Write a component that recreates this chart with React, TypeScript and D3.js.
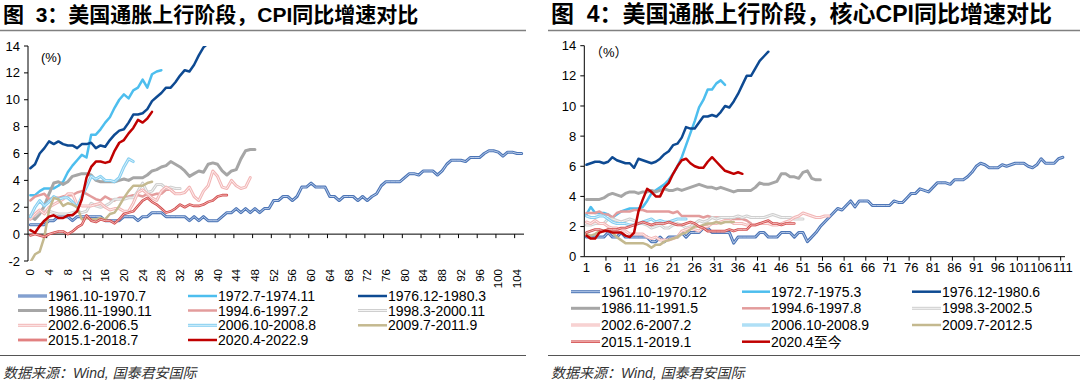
import React from "react";
import * as d3 from "d3";

const LATIN = "'Liberation Sans', Arial, 'Noto Sans CJK SC', sans-serif";

// ---------- Left chart: CPI YoY (%) ----------
const leftTitle = "图  3：美国通胀上行阶段，CPI同比增速对比";
const leftNames = [
  "1961.10-1970.7", "1972.7-1974.11", "1976.12-1980.3",
  "1986.11-1990.11", "1994.6-1997.2", "1998.3-2000.11",
  "2002.6-2006.5", "2006.10-2008.8", "2009.7-2011.9",
  "2015.1-2018.7", "2020.4-2022.9",
];
const leftTickLabels = ["0","4","8","12","16","20","24","28","32","36","40","44","48","52","56","60","64","68","72","76","80","84","88","92","96","100","104"];
const leftYTicks = [-2, 0, 2, 4, 6, 8, 10, 12, 14];

const cpi1961 = [0.7,0.7,0.7,
  0.7,1.0,1.0,1.3,1.3,1.3,1.0,1.3,1.3,1.3,1.3,1.3,
  1.3,1.0,1.0,1.0,1.0,1.3,1.3,1.3,1.0,1.3,1.3,1.6,
  1.6,1.6,1.3,1.3,1.3,1.3,1.3,1.0,1.3,1.0,1.3,1.0,
  1.0,1.0,1.3,1.6,1.6,1.9,1.6,1.9,1.6,1.9,1.6,1.9,
  1.9,2.5,2.5,2.8,2.8,2.5,2.8,3.5,3.5,3.8,3.5,3.5,
  3.5,2.8,2.8,2.5,2.8,2.8,2.8,2.5,2.8,2.5,2.8,3.0,
  3.6,3.9,3.9,3.9,3.9,4.2,4.5,4.5,4.4,4.7,4.7,4.7,
  4.4,4.7,5.2,5.5,5.5,5.5,5.4,5.7,5.7,5.7,6.0,6.2,
  6.2,6.1,5.8,6.1,6.1,6.0,6.0];
const cpi1972 = [2.9,2.9,3.2,3.4,3.4,3.4,
  3.6,3.9,4.6,5.1,5.5,5.9,5.7,7.4,7.4,7.8,8.3,8.7,
  9.4,10.0,10.4,10.1,10.7,10.9,11.5,10.9,11.9,12.1,12.2];
const cpi1976 = [4.9,
  5.2,6.0,6.4,6.9,6.7,6.9,6.7,6.6,6.6,6.4,6.7,6.7,
  6.8,6.4,6.6,6.5,7.0,7.4,7.7,7.8,8.3,8.9,8.9,9.0,
  9.3,9.9,10.2,10.5,10.9,10.9,11.3,11.8,12.2,12.1,12.6,13.3,
  13.9,14.2,14.8];
const cpi1986 = [1.3,1.1,
  1.5,2.1,3.0,3.8,3.9,3.7,3.9,4.3,4.4,4.5,4.5,4.4,
  4.0,3.9,3.9,3.9,3.9,4.0,4.1,4.0,4.2,4.2,4.2,4.4,
  4.7,4.8,5.0,5.1,5.4,5.2,5.0,4.7,4.3,4.5,4.7,4.6,
  5.2,5.3,5.2,4.7,4.4,4.7,4.8,5.6,6.2,6.3,6.3];
const cpi1994 = [2.5,2.8,2.9,3.0,2.6,2.7,2.7,
  2.8,2.9,2.9,3.1,3.2,3.0,2.8,2.6,2.5,2.8,2.6,2.5,
  2.7,2.7,2.8,2.9,2.9,2.8,3.0,2.9,3.0,3.0,3.3,3.3,
  3.0,3.0];
const cpi1998 = [1.4,1.4,1.7,1.7,1.7,1.6,1.5,1.5,1.5,1.6,
  1.7,1.6,1.7,2.3,2.1,2.0,2.1,2.3,2.6,2.6,2.6,2.7,
  2.7,3.2,3.8,3.1,3.2,3.7,3.7,3.4,3.5,3.4,3.4];
const cpi2002 = [1.1,1.5,1.8,1.5,2.0,2.2,2.4,
  2.6,3.0,3.0,2.2,2.1,2.1,2.1,2.2,2.3,2.0,1.8,1.9,
  1.9,1.7,1.7,2.3,3.1,3.3,3.0,2.7,2.5,3.2,3.5,3.3,
  3.0,3.0,3.1,3.5,2.8,2.5,3.2,3.6,4.7,4.3,3.5,3.4,
  4.0,3.6,3.4,3.5,4.2];
const cpi2006 = [1.3,2.0,2.5,
  2.1,2.4,2.8,2.6,2.7,2.7,2.4,2.0,2.8,3.5,4.3,4.1,
  4.3,4.0,4.0,3.9,4.2,5.0,5.6,5.4];
const cpi2009 = [-2.1,-1.5,-1.3,-0.2,1.8,2.7,
  2.6,2.1,2.3,2.2,2.0,1.1,1.2,1.1,1.1,1.2,1.1,1.5,
  1.6,2.1,2.7,3.2,3.6,3.6,3.6,3.8,3.9];
const cpi2015 = [-0.1,0.0,-0.1,-0.2,0.0,0.1,0.2,0.2,0.0,0.2,0.5,0.7,
  1.4,1.0,0.9,1.1,1.0,1.0,0.8,1.1,1.5,1.6,1.7,2.1,
  2.5,2.7,2.4,2.2,1.9,1.6,1.7,1.9,2.2,2.0,2.2,2.1,
  2.1,2.2,2.4,2.5,2.8,2.9,2.9];
const cpi2020 = [0.3,0.1,0.6,1.0,1.3,1.4,1.2,1.2,1.4,
  1.4,1.7,2.6,4.2,5.0,5.4,5.4,5.3,5.4,6.2,6.8,7.0,
  7.5,7.9,8.5,8.3,8.6,9.1];
const leftValues = [cpi1961, cpi1972, cpi1976, cpi1986, cpi1994, cpi1998, cpi2002, cpi2006, cpi2009, cpi2015, cpi2020];

// ---------- Right chart: core CPI YoY (%) ----------
const rightTitle = "图  4：美国通胀上行阶段，核心CPI同比增速对比";
const rightNames = [
  "1961.10-1970.12", "1972.7-1975.3", "1976.12-1980.6",
  "1986.11-1991.5", "1994.6-1997.8", "1998.3-2002.5",
  "2002.6-2007.2", "2006.10-2008.9", "2009.7-2012.5",
  "2015.1-2019.1", "2020.4至今",
];
const rightTickLabels = ["1","6","11","16","21","26","31","36","41","46","51","56","61","66","71","76","81","86","91","96","101","106","111"];
const rightYTicks = [0, 2, 4, 6, 8, 10, 12, 14];

const core1961 = [1.3,1.3,1.3,1.3,1.3,1.6,1.3,1.3,1.6,1.3,
  1.3,1.3,1.3,1.3,1.3,1.0,1.0,1.3,1.0,1.3,
  1.3,1.3,1.6,1.3,1.6,1.6,1.6,1.9,1.9,1.6,
  1.6,1.6,1.6,1.6,0.9,1.3,1.3,1.3,1.3,1.3,
  1.6,1.6,1.3,1.3,1.3,1.6,1.6,1.6,1.3,1.6,
  1.6,1.0,1.3,1.6,2.0,2.3,2.6,2.9,3.2,3.1,
  3.4,3.7,3.3,3.7,3.7,3.7,3.4,3.4,3.4,3.4,
  3.4,3.7,3.6,3.6,3.9,4.2,4.2,4.5,4.4,4.3,
  4.6,4.9,4.9,4.9,4.8,5.1,5.1,5.1,5.3,5.6,
  6.0,6.2,6.1,5.9,5.9,5.9,6.1,6.0,6.1,6.2,
  6.2,6.2,6.0,5.9,6.1,6.5,6.2,6.2,6.2,6.5,6.6];
const core1972 = [2.8,3.3,2.9,2.9,2.9,2.8,2.6,2.8,3.0,3.1,
  3.2,3.2,3.2,3.3,3.7,4.2,4.4,4.6,4.8,5.1,
  5.5,6.0,6.6,7.4,8.2,9.0,9.9,10.4,11.1,11.1,
  11.5,11.7,11.4];
const core1976 = [6.1,6.2,6.3,6.3,6.2,6.3,6.6,6.4,6.3,6.2,
  6.2,5.9,6.5,6.4,6.3,6.2,6.3,6.5,6.8,7.0,
  7.4,7.5,7.9,8.6,8.5,8.5,8.9,9.3,9.3,9.4,
  9.3,9.6,10.0,9.9,10.3,10.8,11.4,12.0,12.0,12.5,
  13.0,13.3,13.6];
const core1986 = [3.8,3.8,3.8,3.8,3.9,4.1,4.2,4.1,4.0,4.2,
  4.3,4.3,4.2,4.3,4.3,4.4,4.3,4.4,4.5,4.4,
  4.4,4.5,4.4,4.5,4.6,4.7,4.8,4.7,4.6,4.6,
  4.5,4.6,4.5,4.4,4.3,4.4,4.4,4.4,4.4,4.6,
  4.9,4.8,4.8,4.9,5.0,5.5,5.5,5.3,5.3,5.2,
  5.6,5.7,5.2,5.1,5.1];
const core1994 = [2.9,2.9,2.9,3.0,2.8,2.8,2.6,2.9,3.0,3.0,
  3.0,3.1,3.1,3.1,3.0,3.0,3.0,3.0,3.0,3.0,
  2.9,3.0,2.7,2.7,2.7,2.7,2.7,2.6,2.7,2.6,
  2.6,2.6,2.6,2.6,2.5,2.5,2.5,2.4,2.2];
const core1998 = [2.1,2.1,2.2,2.2,2.2,2.5,2.5,2.4,2.3,2.4,
  2.5,2.4,2.2,2.2,2.1,1.9,2.0,2.1,1.9,1.9,
  2.1,2.2,2.1,1.9,2.0,2.2,2.4,2.3,2.4,2.6,
  2.5,2.6,2.6,2.6,2.6,2.7,2.6,2.7,2.6,2.6,
  2.6,2.6,2.7,2.8,2.7,2.6,2.6,2.6,2.5,2.5,2.5];
const core2002 = [2.3,2.2,2.4,2.2,2.2,2.0,1.9,1.9,1.7,1.7,
  1.5,1.5,1.5,1.5,1.3,1.2,1.3,1.1,1.1,1.1,
  1.2,1.3,1.7,1.8,1.9,1.8,1.7,2.0,2.0,2.2,
  2.2,2.3,2.4,2.4,2.2,2.2,2.2,2.1,2.1,2.1,
  2.2,2.2,2.2,2.1,2.1,2.2,2.3,2.4,2.6,2.7,
  2.9,2.8,2.7,2.6,2.6,2.7,2.7];
const core2006 = [2.7,2.6,2.6,2.7,2.7,2.5,2.3,2.2,2.2,2.2,
  2.1,2.1,2.2,2.3,2.4,2.5,2.3,2.4,2.3,2.3,
  2.4,2.5,2.5,2.5];
const core2009 = [1.5,1.4,1.5,1.7,1.7,1.8,1.6,1.3,1.1,0.9,
  0.9,0.9,0.9,0.9,0.8,0.6,0.8,0.8,1.0,1.1,
  1.2,1.3,1.5,1.6,1.8,2.0,2.0,2.1,2.2,2.2,
  2.3,2.2,2.3,2.3,2.3];
const core2015 = [1.6,1.7,1.8,1.8,1.7,1.8,1.8,1.8,1.9,1.9,2.0,2.1,
  2.2,2.3,2.2,2.1,2.2,2.2,2.2,2.3,2.2,2.1,2.1,2.2,
  2.3,2.2,2.0,1.9,1.7,1.7,1.7,1.7,1.7,1.8,1.7,1.8,
  1.8,1.8,2.1,2.1,2.2,2.3,2.4,2.2,2.2,2.1,2.2,2.2,
  2.2];
const core2020 = [1.4,1.2,1.2,1.6,1.7,1.7,1.6,1.6,1.6,
  1.4,1.3,1.6,3.0,3.8,4.5,4.3,4.0,4.0,4.6,4.9,5.5,
  6.0,6.4,6.5,6.2,6.0,5.9,5.9,6.3,6.6,6.3,6.0,5.7,
  5.6,5.5,5.6,5.5];
const rightValues = [core1961, core1972, core1976, core1986, core1994, core1998, core2002, core2006, core2009, core2015, core2020];

const footnote = "数据来源：Wind, 国泰君安国际";

// ---------- Styles (per series index) ----------
type Sty = { color: string; width: number; inner?: string };
const styles: Sty[] = [
  { color: "#4C75B6", width: 3, inner: "#B9CCEA" },
  { color: "#4DBEEE", width: 2.5 },
  { color: "#0E4A92", width: 2.5 },
  { color: "#A6A6A6", width: 3 },
  { color: "#E39C9C", width: 2.5 },
  { color: "#CFCFCF", width: 3, inner: "#F4F4F4" },
  { color: "#F2B6B6", width: 3, inner: "#FDEEEE" },
  { color: "#86CFF1", width: 3, inner: "#D8F0FB" },
  { color: "#C4B98F", width: 2.5 },
  { color: "#D24F4F", width: 2.6, inner: "#F2B2B2" },
  { color: "#C00000", width: 2.5 },
];

type PanelProps = {
  id: string;
  title: string;
  titleSize: number;
  names: string[];
  values: number[][];
  start: number;
  n: number;
  x0: number; x1: number;
  yDomain: [number, number];
  yTop: number; yBottom: number;
  yTicks: number[];
  tickLabels: string[];
  labelEvery: number;
  rotated: boolean;
  unit: string;
  unitX: number; unitY: number;
  leftEdge: number; rightEdge: number;
  legendCols: { lineX: number; textX: number }[];
  legendRows: number[];
};

function Panel(p: PanelProps) {
  const x = d3.scaleLinear().domain([p.start - 0.5, p.start + p.n - 0.5]).range([p.x0, p.x1]);
  const y = d3.scaleLinear().domain(p.yDomain).range([p.yBottom, p.yTop]);
  const line = d3.line<number>().x((_, i) => x(p.start + i)).y((v) => y(v));
  const axisY = y(Math.max(0, p.yDomain[0]));
  const boundaries = d3.range(p.start - 0.5 + p.labelEvery, p.start + p.n - 0.5 + 0.001, p.labelEvery);
  const labelCats = p.tickLabels.map((t) => +t);
  const clipId = "clip-" + p.id;
  return (
    <g>
      <text x={p.leftEdge + 3} y={21.5} fontFamily={LATIN} fontWeight="bold" fontSize={p.titleSize} fill="#000" style={{ whiteSpace: "pre" }}>{p.title}</text>
      <line x1={p.leftEdge} x2={p.rightEdge} y1={30.5} y2={30.5} stroke="#808080" strokeWidth={1.6} />
      <defs>
        <clipPath id={clipId}>
          <rect x={p.x0} y={p.yTop} width={p.x1 - p.x0} height={p.yBottom - p.yTop} />
        </clipPath>
      </defs>
      {/* y axis */}
      <line x1={p.x0} x2={p.x0} y1={p.yTop} y2={p.yBottom} stroke="#000" strokeWidth={1} />
      {p.yTicks.map((t) => (
        <g key={"yt" + t}>
          <line x1={p.x0 - 4} x2={p.x0} y1={y(t)} y2={y(t)} stroke="#000" strokeWidth={1} />
          <text x={p.x0 - 8} y={y(t)} dy="0.35em" textAnchor="end" fontFamily={LATIN} fontSize={13} fill="#000">{t}</text>
        </g>
      ))}
      <text x={p.unitX} y={p.unitY} fontFamily={LATIN} fontSize={13} fill="#000">{p.unit}</text>
      {/* x axis */}
      <line x1={p.x0} x2={p.x1} y1={axisY} y2={axisY} stroke="#000" strokeWidth={1} />
      {boundaries.map((b) => (
        <line key={"xt" + b} x1={x(b)} x2={x(b)} y1={axisY} y2={axisY + 4} stroke="#000" strokeWidth={1} />
      ))}
      {labelCats.map((c, i) =>
        p.rotated ? (
          <text key={"xl" + c} transform={`translate(${x(c)},${p.yBottom + 8}) rotate(-90)`} textAnchor="end" dy="0.35em" fontFamily={LATIN} fontSize={11.5} fill="#000">{p.tickLabels[i]}</text>
        ) : (
          <text key={"xl" + c} x={x(c)} y={axisY + 15} textAnchor="middle" fontFamily={LATIN} fontSize={13} fill="#000">{p.tickLabels[i]}</text>
        )
      )}
      {/* series */}
      <g clipPath={`url(#${clipId})`}>
        {p.values.map((vals, si) => {
          const s = styles[si];
          const d = line(vals) || "";
          return (
            <g key={"s" + si}>
              <path d={d} fill="none" stroke={s.color} strokeWidth={s.width} strokeLinejoin="round" strokeLinecap="round" />
              {s.inner && <path d={d} fill="none" stroke={s.inner} strokeWidth={1} strokeLinejoin="round" strokeLinecap="round" />}
            </g>
          );
        })}
      </g>
      {/* legend */}
      {p.names.map((nm, i) => {
        const col = p.legendCols[i % 3];
        const row = p.legendRows[Math.floor(i / 3)];
        const s = styles[i];
        return (
          <g key={"lg" + i}>
            <line x1={col.lineX} x2={col.textX - 1} y1={row} y2={row} stroke={s.color} strokeWidth={s.width} />
            {s.inner && <line x1={col.lineX} x2={col.textX - 1} y1={row} y2={row} stroke={s.inner} strokeWidth={1} />}
            <text x={col.textX} y={row} dy="0.36em" fontFamily={LATIN} fontSize={14} fill="#000">{nm}</text>
          </g>
        );
      })}
      <line x1={p.leftEdge} x2={p.rightEdge} y1={355.5} y2={355.5} stroke="#555" strokeWidth={1} />
      <text x={p.leftEdge + 3} y={378} fontFamily={LATIN} fontStyle="italic" fontSize={14} fill="#333">{footnote}</text>
    </g>
  );
}

export default function App() {
  return (
    <svg width={1080} height={385} style={{ position: "absolute", left: 0, top: 0, background: "#fff" }}>
      <rect x={0} y={0} width={1080} height={385} fill="#fff" />
      <Panel
        id="left" title={leftTitle} titleSize={21} names={leftNames} values={leftValues}
        start={0} n={106} x0={28} x1={524}
        yDomain={[-2, 14]} yTop={46} yBottom={261} yTicks={leftYTicks}
        tickLabels={leftTickLabels} labelEvery={4} rotated={true}
        unit="(%)" unitX={41} unitY={62}
        leftEdge={0} rightEdge={526}
        legendCols={[{ lineX: 18, textX: 48 }, { lineX: 188, textX: 218 }, { lineX: 358, textX: 388 }]}
        legendRows={[296, 310.5, 325.3, 340]}
      />
      <Panel
        id="right" title={rightTitle} titleSize={23} names={rightNames} values={rightValues}
        start={1} n={111} x0={584.3} x1={1065}
        yDomain={[0, 14]} yTop={45.7} yBottom={256.7} yTicks={rightYTicks}
        tickLabels={rightTickLabels} labelEvery={5} rotated={false}
        unit="（%）" unitX={590} unitY={57}
        leftEdge={548} rightEdge={1080}
        legendCols={[{ lineX: 571, textX: 601 }, { lineX: 742, textX: 771 }, { lineX: 912, textX: 942 }]}
        legendRows={[291.7, 308.3, 325, 341.7]}
      />
    </svg>
  );
}
